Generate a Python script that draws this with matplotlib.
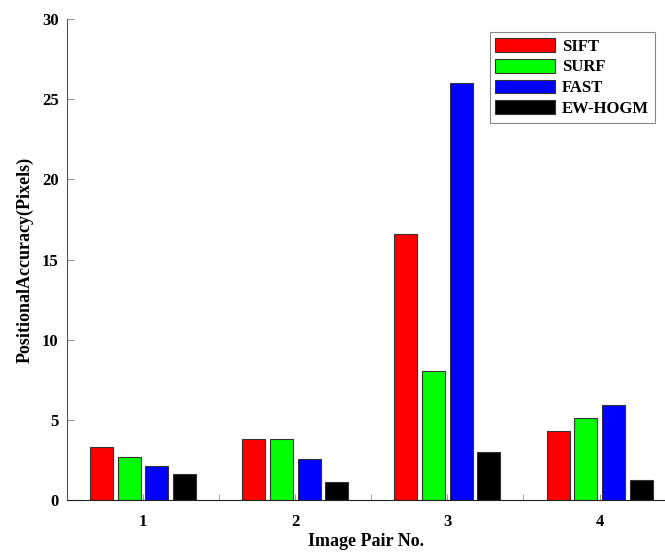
import numpy
from matplotlib import pyplot
from matplotlib.ticker import MultipleLocator

# image pair numbers on the x-axis
pairs = [1, 2, 3, 4]
# positional accuracy (pixels) per method
sift = [3.3, 3.8, 16.6, 4.3]
surf = [2.7, 3.8, 8.05, 5.1]
fast = [2.15, 2.55, 26.0, 5.95]
ewhogm = [1.65, 1.1, 3.0, 1.25]

methods = ['SIFT', 'SURF', 'FAST', 'EW-HOGM']
cols = ['#ff0000', '#00ff00', '#0000ff', '#000000']

pyplot.rcParams['font.family'] = 'Liberation Serif'
pyplot.rcParams['font.weight'] = 'bold'

fig = pyplot.figure(figsize=(6.65, 5.56), dpi=100)
ax = fig.add_axes([0.1008, 0.1007, 0.8992, 0.8651])

x = numpy.array(pairs, dtype=float)
width = 0.151
pitch = 0.182
for i, (vals, name) in enumerate(zip([sift, surf, fast, ewhogm], methods)):
    offset = (i - 1.5) * pitch
    ax.bar(x + offset, vals, width=width, color=cols[i],
        edgecolor='#333333', linewidth=0.8, label=name, zorder=2)

ax.set_xlim(0.5, 4.43)
ax.set_ylim(0, 30)
ax.set_xticks(pairs)
ax.xaxis.set_minor_locator(MultipleLocator(0.5))
ax.yaxis.set_major_locator(MultipleLocator(5))

ax.spines['top'].set_visible(False)
ax.spines['right'].set_visible(False)
ax.spines['left'].set_color('#555555')
ax.spines['bottom'].set_color('#222222')
ax.tick_params(axis='both', which='both', direction='in', color='#999999',
    labelsize=12)
ax.tick_params(axis='x', which='major', length=4, pad=10)
ax.tick_params(axis='x', which='minor', length=4)
ax.tick_params(axis='y', which='major', length=5, pad=6)

ax.set_xlabel('Image Pair No.', fontsize=13, fontweight='bold', labelpad=2)
ax.set_ylabel('PositionalAccuracy(Pixels)', fontsize=13, fontweight='bold',
    labelpad=6)

leg = ax.legend(loc='upper right', bbox_to_anchor=(0.997, 0.99),
    fontsize=12, handlelength=3.6, handleheight=0.9, handletextpad=0.4,
    labelspacing=0.25, borderpad=0.35, fancybox=False, framealpha=1)
leg.get_frame().set_edgecolor('#888888')
leg.get_frame().set_linewidth(0.8)

fig.savefig('out.png')
